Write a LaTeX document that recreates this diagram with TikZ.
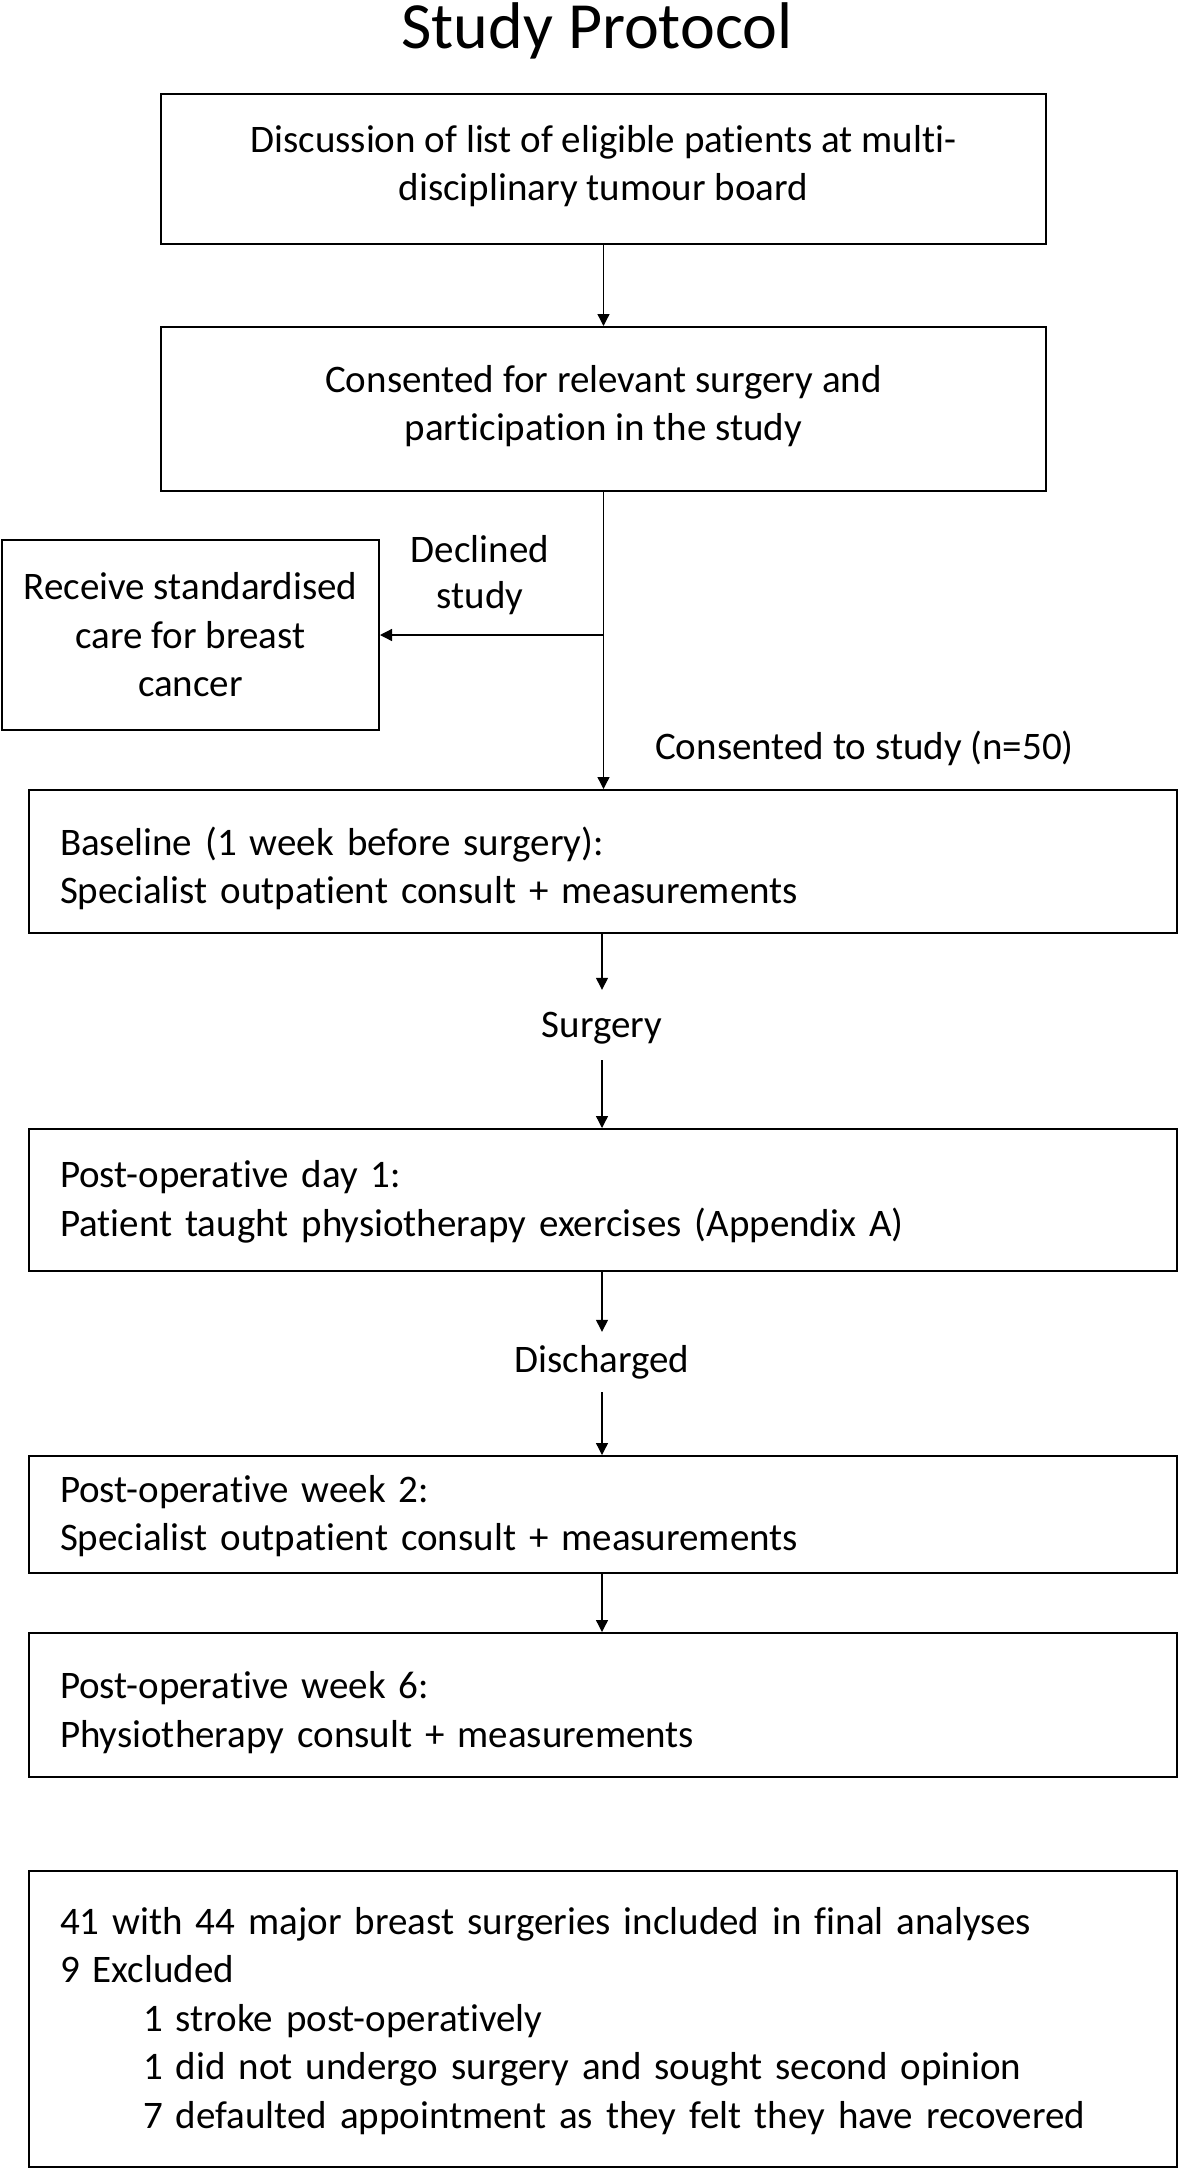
\documentclass[tikz,border=0pt]{standalone}
\usepackage{fontspec}
\setmainfont{Carlito}[Ligatures=NoCommon]
\usepackage{tikz}
\usetikzlibrary{arrows.meta}

\begin{document}
\begin{tikzpicture}[x=1pt, y=-1pt,
    box/.style={draw, line width=2pt, inner sep=0pt, font=\fontsize{39}{48.5}\selectfont},
    strut/.style={execute at begin node={\rule{0pt}{#1}}, execute at end node={\rule[-12pt]{0pt}{12pt}}},
    strut/.default=36pt,
    cbox/.style={box, align=center},
    lbox/.style={box, strut, align=left, text width=1086pt, inner xsep=31pt},
    lbl/.style={font=\fontsize{39}{46}\selectfont, inner sep=0pt},
    arr/.style={-{Triangle[length=12pt,width=12pt]}, line width=1.3pt}]
    \useasboundingbox (0,0) rectangle (1181,2169);

    % Title
    \node (title) at (597,48) [anchor=base, font=\fontsize{66}{79}\selectfont] {Study Protocol};

    % Recruitment
    \node (board) at (603.5,169) [cbox, strut, minimum width=885pt, minimum height=150pt]
        {Discussion of list of eligible patients at multi-\\disciplinary tumour board};
    \node (consent) at (603.5,409) [cbox, strut, minimum width=885pt, minimum height=164pt]
        {Consented for relevant surgery and\\participation in the study};
    \node (care) at (190.5,635) [cbox, minimum width=377pt, minimum height=190pt]
        {Receive standardised\\care for breast\\cancer};
    \node (declined) at (480,575) [lbl, align=center] {Declined\\study};
    \node (consented) at (655,759) [lbl, anchor=base west] {Consented to study (n=50)};

    % Follow-up
    \node (baseline) at (603,861.5) [lbox, strut=48pt, minimum height=143pt]
        {Baseline (1 week before surgery):\\Specialist outpatient consult + measurements};
    \node (surgery) at (602,1037) [lbl, anchor=base, text height=47pt, text depth=23pt] {Surgery};
    \node (day1) at (603,1200) [lbox, minimum height=142pt]
        {Post-operative day 1:\\Patient taught physiotherapy exercises (Appendix A)};
    \node (discharged) at (602,1372) [lbl, anchor=base, text height=40pt, text depth=20pt] {Discharged};
    \node (week2) at (603,1514.5) [lbox, minimum height=117pt]
        {Post-operative week 2:\\Specialist outpatient consult + measurements};
    \node (week6) at (603,1705) [lbox, strut=48pt, minimum height=144pt]
        {Post-operative week 6:\\Physiotherapy consult + measurements};

    % Results
    \node (final) at (603,2019) [lbox, minimum height=296pt]
        {41 with 44 major breast surgeries included in final analyses\\
         9 Excluded\\
         \hspace*{83pt}1 stroke post-operatively\\
         \hspace*{83pt}1 did not undergo surgery and sought second opinion\\
         \hspace*{83pt}7 defaulted appointment as they felt they have recovered};

    % Arrows
    \draw[arr] (board.south) -- (board.south |- consent.north);
    \draw[arr] (consent.south) -- (consent.south |- baseline.north);
    \draw[arr] (consent.south |- care.east) -- (care.east);
    \draw[arr] (baseline.south -| surgery.north) -- (surgery.north);
    \draw[arr] (surgery.south) -- (surgery.south |- day1.north);
    \draw[arr] (day1.south -| discharged.north) -- (discharged.north);
    \draw[arr] (discharged.south) -- (discharged.south |- week2.north);
    \draw[arr] (week2.south -| surgery.south) -- (surgery.south |- week6.north);
\end{tikzpicture}
\end{document}
